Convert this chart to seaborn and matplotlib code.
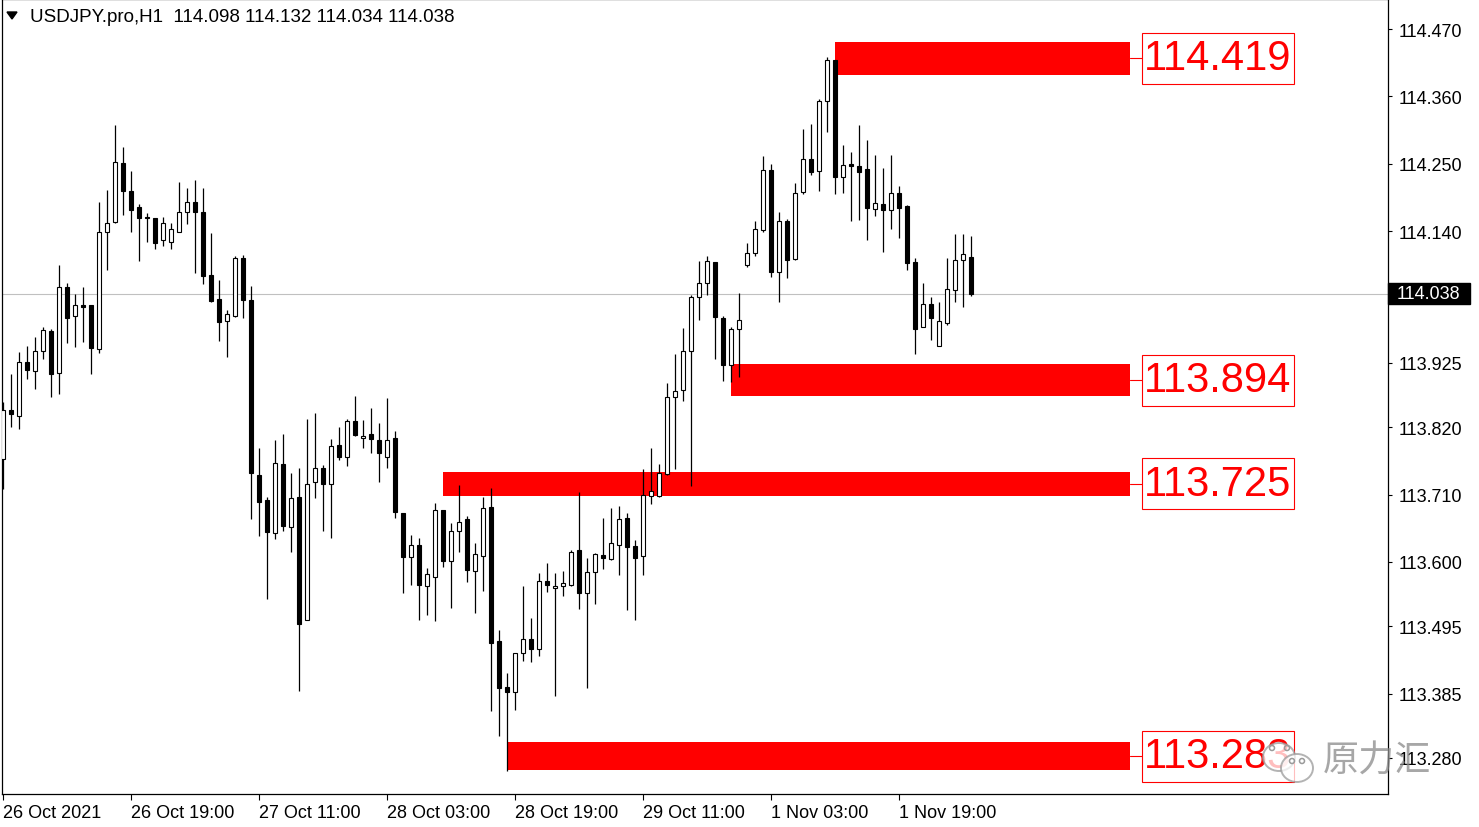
import numpy as np
import pandas as pd
import seaborn as sns
import matplotlib
matplotlib.use("Agg")
import matplotlib.pyplot as plt
import matplotlib.transforms as mtransforms
from matplotlib import font_manager
from matplotlib.patches import Rectangle, Ellipse, Circle, Polygon

# USDJPY H1 candles
opens = [113.768, 113.848, 113.839, 113.927, 113.912, 113.944, 113.977, 113.908, 114.049, 114.001,
         114.019, 114.019, 113.948, 114.138, 114.155, 114.252, 114.206, 114.179, 114.163, 114.161,
         114.125, 114.122, 114.138, 114.171, 114.188, 114.171, 114.068, 114.029, 113.993, 114.002,
         114.096, 114.027, 113.742, 113.701, 113.647, 113.760, 113.657, 113.706, 113.506, 113.730,
         113.754, 113.728, 113.791, 113.772, 113.830, 113.802, 113.809, 113.799, 113.772, 113.802,
         113.680, 113.608, 113.628, 113.560, 113.575, 113.685, 113.602, 113.651, 113.670, 113.586,
         113.610, 113.689, 113.471, 113.396, 113.387, 113.452, 113.475, 113.458, 113.569, 113.557,
         113.560, 113.562, 113.620, 113.549, 113.584, 113.612, 113.605, 113.628, 113.672, 113.626,
         113.609, 113.707, 113.708, 113.744, 113.870, 113.880, 113.945, 114.033, 114.055, 114.089,
         113.998, 113.922, 113.980, 114.085, 114.104, 114.142, 114.240, 114.073, 114.156, 114.095,
         114.204, 114.258, 114.238, 114.352, 114.419, 114.228, 114.250, 114.246, 114.241, 114.176,
         114.184, 114.175, 114.202, 114.181, 114.090, 113.983, 114.021, 113.952, 113.990, 114.044,
         114.093, 114.098]
highs = [113.861, 113.907, 113.942, 113.952, 113.967, 113.984, 113.980, 114.084, 114.056, 114.037,
         114.049, 114.019, 114.188, 114.207, 114.313, 114.277, 114.239, 114.184, 114.169, 114.161,
         114.163, 114.153, 114.221, 114.210, 114.224, 114.210, 114.137, 114.060, 114.011, 114.100,
         114.101, 114.051, 113.786, 113.706, 113.799, 113.809, 113.745, 113.754, 113.833, 113.843,
         113.758, 113.800, 113.820, 113.834, 113.871, 113.832, 113.852, 113.827, 113.868, 113.814,
         113.680, 113.644, 113.639, 113.590, 113.696, 113.685, 113.663, 113.726, 113.675, 113.631,
         113.706, 113.720, 113.489, 113.418, 113.452, 113.560, 113.508, 113.582, 113.598, 113.582,
         113.585, 113.620, 113.715, 113.606, 113.615, 113.672, 113.688, 113.691, 113.680, 113.636,
         113.751, 113.786, 113.760, 113.892, 113.939, 113.982, 114.036, 114.091, 114.099, 114.089,
         114.001, 113.983, 114.039, 114.121, 114.157, 114.263, 114.250, 114.171, 114.160, 114.218,
         114.307, 114.315, 114.356, 114.425, 114.419, 114.281, 114.269, 114.313, 114.289, 114.264,
         114.243, 114.264, 114.214, 114.183, 114.096, 114.055, 114.033, 114.024, 114.097, 114.135,
         114.135, 114.132]
lows = [113.719, 113.820, 113.817, 113.898, 113.882, 113.931, 113.870, 113.874, 113.957, 113.951,
        113.959, 113.907, 113.941, 114.076, 114.153, 114.167, 114.138, 114.091, 114.122, 114.111,
        114.115, 114.111, 114.138, 114.152, 114.072, 114.054, 114.025, 113.961, 113.935, 114.000,
        113.998, 113.670, 113.643, 113.539, 113.637, 113.651, 113.616, 113.389, 113.506, 113.704,
        113.651, 113.639, 113.767, 113.757, 113.806, 113.786, 113.778, 113.731, 113.753, 113.671,
        113.549, 113.563, 113.505, 113.514, 113.503, 113.591, 113.525, 113.616, 113.568, 113.516,
        113.552, 113.357, 113.316, 113.259, 113.359, 113.439, 113.436, 113.447, 113.551, 113.381,
        113.545, 113.561, 113.523, 113.394, 113.532, 113.589, 113.604, 113.578, 113.521, 113.506,
        113.578, 113.695, 113.706, 113.742, 113.751, 113.863, 113.724, 113.995, 114.035, 113.932,
        113.896, 113.894, 113.902, 114.082, 114.099, 114.139, 114.065, 114.025, 114.063, 114.093,
        114.200, 114.232, 114.206, 114.302, 114.200, 114.202, 114.157, 114.159, 114.126, 114.164,
        114.106, 114.144, 114.129, 114.077, 113.939, 113.983, 113.963, 113.952, 113.987, 114.024,
        114.016, 114.034]
closes = [113.848, 113.842, 113.926, 113.914, 113.944, 113.978, 113.907, 114.049, 113.999, 114.020,
          114.016, 113.949, 114.139, 114.153, 114.253, 114.205, 114.175, 114.161, 114.161, 114.120,
          114.153, 114.143, 114.171, 114.188, 114.171, 114.066, 114.026, 113.991, 114.004, 114.096,
          114.027, 113.745, 113.698, 113.649, 113.761, 113.658, 113.705, 113.498, 113.728, 113.754,
          113.728, 113.790, 113.772, 113.830, 113.808, 113.806, 113.801, 113.778, 113.799, 113.682,
          113.608, 113.628, 113.563, 113.580, 113.685, 113.602, 113.650, 113.666, 113.587, 113.613,
          113.688, 113.467, 113.395, 113.387, 113.452, 113.475, 113.458, 113.569, 113.563, 113.560,
          113.565, 113.617, 113.549, 113.584, 113.613, 113.606, 113.631, 113.670, 113.625, 113.606,
          113.709, 113.716, 113.746, 113.870, 113.879, 113.944, 114.033, 114.055, 114.092, 114.000,
          113.922, 113.980, 113.995, 114.104, 114.144, 114.240, 114.073, 114.157, 114.093, 114.203,
          114.258, 114.237, 114.353, 114.419, 114.229, 114.248, 114.247, 114.237, 114.178, 114.186,
          114.175, 114.202, 114.178, 114.088, 113.980, 114.021, 113.998, 113.993, 114.046, 114.093,
          114.103, 114.038]

date_labels = ["26 Oct 2021", "26 Oct 19:00", "27 Oct 11:00", "28 Oct 03:00",
               "28 Oct 19:00", "29 Oct 11:00", "1 Nov 03:00", "1 Nov 19:00"]
bars_per_label = 16
price_ticks = [114.470, 114.360, 114.250, 114.140, 113.925, 113.820,
               113.710, 113.600, 113.495, 113.385, 113.280]

# red supply / demand zones
zone_labels = ["114.419", "113.894", "113.725", "113.283"]
zone_tops = [114.449, 113.923, 113.747, 113.306]
zone_bottoms = [114.395, 113.871, 113.708, 113.260]
zone_starts = [104, 91, 55, 63]
zone_end = 140.8

last_price = 114.038
header = "USDJPY.pro,H1  114.098 114.132 114.034 114.038"

sns.set_theme(style="white")
plt.rcParams['font.family'] = ['Liberation Sans', 'DejaVu Sans']


def has_font(name):
    try:
        font_manager.findfont(font_manager.FontProperties(family=name), fallback_to_default=False)
        return True
    except ValueError:
        return False


big_family = 'Liberation Sans Narrow' if has_font('Liberation Sans Narrow') else 'Liberation Sans'
big_size = 34 if big_family == 'Liberation Sans Narrow' else 30

df = pd.DataFrame({"open": opens, "high": highs, "low": lows, "close": closes})
df["x"] = np.arange(len(df))
df["up"] = df["close"] >= df["open"]
df["body_lo"] = df[["open", "close"]].min(axis=1)
df["body_h"] = (df["close"] - df["open"]).abs().clip(lower=0.0014)

W, H = 1479, 828
fig = plt.figure(figsize=(W / 100, H / 100), dpi=100)
fig.patch.set_facecolor("white")
ax = fig.add_axes([2 / W, 33 / H, 1386 / W, 795 / H])
ax.set_facecolor("white")

ax.set_xlim(-0.16, 173.09)
ax.set_ylim(113.2212, 114.519)

# current price line
ax.axhline(last_price, color="#c0c0c0", lw=0.8, zorder=1)

# zones
for lab, top, bot, start in zip(zone_labels, zone_tops, zone_bottoms, zone_starts):
    ax.add_patch(Rectangle((start, bot), zone_end - start, top - bot,
                           facecolor="#ff0000", edgecolor="none", zorder=2))
    mid = (top + bot) / 2
    ax.plot([zone_end, 142.3], [mid, mid], color="#ff0000", lw=0.8, zorder=2)
    box_h = 0.0833
    ax.add_patch(Rectangle((142.3, mid - box_h / 2), 19.0, box_h, facecolor="white",
                           edgecolor="#ff0000", lw=0.8, zorder=5))
    ax.text(151.8, mid, lab, ha="center", va="center", color="#ff0000",
            fontsize=big_size, family=big_family, zorder=6)

# candles
ax.vlines(df["x"], df["low"], df["high"], color="black", lw=0.9, zorder=3)
ax.bar(df["x"], df["body_h"], bottom=df["body_lo"], width=0.55,
       color=np.where(df["up"], "white", "black"), edgecolor="black",
       linewidth=0.8, zorder=4)

# axes styling
for s in ax.spines.values():
    s.set_color("black")
    s.set_linewidth(0.9)
ax.yaxis.tick_right()
ax.set_yticks(price_ticks)
ax.set_yticklabels([f"{p:.3f}" for p in price_ticks], fontsize=13)
ax.set_xticks(np.arange(len(date_labels)) * bars_per_label)
ax.set_xticklabels(date_labels, fontsize=13, ha="left")
ax.tick_params(axis="y", which="both", right=True, left=False, length=3, width=0.8,
               pad=5, colors="black", direction="out")
ax.tick_params(axis="x", which="both", bottom=True, length=4, width=0.8, pad=3,
               colors="black", direction="out")
ax.grid(False)

# current price tag on the right
tr = mtransforms.blended_transform_factory(ax.transAxes, ax.transData)
ax.add_patch(Rectangle((1.0, last_price - 0.0172), 0.0592, 0.0343, transform=tr,
                       facecolor="black", edgecolor="black", clip_on=False, zorder=6))
ax.text(1.0065, last_price, f"{last_price:.3f}", transform=tr, color="white",
        fontsize=13, ha="left", va="center", zorder=7, clip_on=False)

# overlay in pixel units: header and watermark
ov = fig.add_axes([0, 0, 1, 1], zorder=10)
ov.set_xlim(0, W)
ov.set_ylim(H, 0)
ov.axis("off")
ov.patch.set_alpha(0)
ov.add_patch(Polygon([[7, 13], [17, 13], [12, 20]], closed=True, color="black"))
ov.text(30, 17, header, fontsize=13.5, va="center", ha="left", color="black")

ov.add_patch(Ellipse((1279, 758), 32, 28, facecolor="white", alpha=0.75,
                     edgecolor="#9a9a9a", lw=1.4))
ov.add_patch(Ellipse((1297, 769), 32, 28, facecolor="white", alpha=0.75,
                     edgecolor="#9a9a9a", lw=1.4))
for cx, cy in [(1272, 749), (1287, 749), (1292, 762), (1302, 762)]:
    ov.add_patch(Circle((cx, cy), 2.5, facecolor="none", edgecolor="#9a9a9a", lw=1.1))
ov.text(1323, 762, "原力汇", fontsize=26, va="center", ha="left", color="#8a8a8a",
        alpha=0.75, family=["Noto Sans CJK SC", "DejaVu Sans"])

fig.savefig("out.png", dpi=100, facecolor="white")
